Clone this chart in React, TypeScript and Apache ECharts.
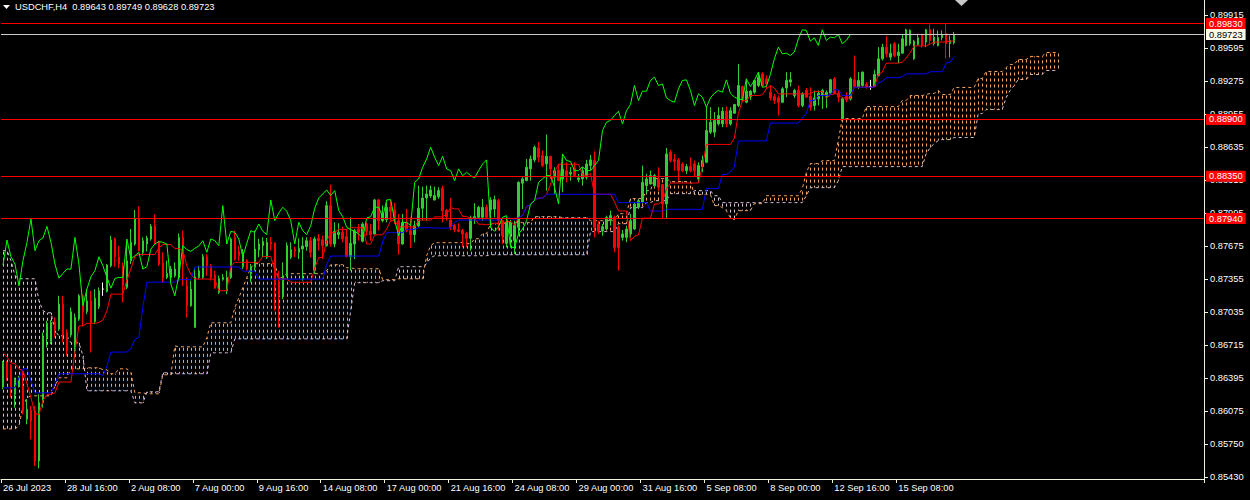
import React, { useEffect, useRef } from "react";
import * as echarts from "echarts";

const symbolName = "USDCHF,H4";

const opens = [
  0.86301,0.86544,0.86512,0.86237,0.86317,0.86317,0.85994,0.86081,0.86075,0.85590,
  0.86156,0.86787,0.86748,0.86935,0.86867,0.87110,0.86835,0.86812,0.86689,0.86964,
  0.87191,0.87039,0.87142,0.86942,0.87084,0.87256,0.87233,0.87482,0.87741,0.87569,
  0.87482,0.87272,0.87531,0.87692,0.87935,0.87611,0.87692,0.87741,0.87870,0.87709,
  0.87514,0.87369,0.87369,0.87385,0.87369,0.87757,0.87288,0.87094,0.86884,0.87369,
  0.87369,0.87569,0.87482,0.87392,0.87223,0.87349,0.87239,0.87369,0.87757,0.87621,
  0.87473,0.87531,0.87402,0.87467,0.87635,0.87677,0.87564,0.87709,0.87703,0.87321,
  0.87192,0.87379,0.87564,0.87644,0.87612,0.87644,0.87667,0.87725,0.87434,0.87748,
  0.87735,0.87677,0.88065,0.87693,0.87784,0.87806,0.87764,0.87570,0.87693,0.87839,
  0.87719,0.87887,0.87816,0.87790,0.88120,0.87919,0.87929,0.88049,0.88023,0.87919,
  0.87693,0.87903,0.87822,0.87784,0.87868,0.88039,0.88139,0.88159,0.88120,0.88152,
  0.88233,0.88017,0.87926,0.87871,0.87829,0.87822,0.87797,0.87748,0.87945,0.87952,
  0.87952,0.88049,0.88023,0.88032,0.88113,0.87919,0.87699,0.87790,0.87725,0.87855,
  0.88282,0.88307,0.88421,0.88508,0.88624,0.88550,0.88469,0.88540,0.88340,0.88411,
  0.88324,0.88404,0.88372,0.88427,0.88317,0.88324,0.88340,0.88453,0.88502,0.87887,
  0.87822,0.87838,0.87919,0.87952,0.87855,0.87757,0.87757,0.87790,0.87838,0.88049,
  0.88097,0.88259,0.88275,0.88259,0.88324,0.88269,0.88081,0.88582,0.88511,0.88508,
  0.88469,0.88404,0.88443,0.88469,0.88324,0.88443,0.88485,0.88776,0.88776,0.88857,
  0.88857,0.88980,0.88857,0.88961,0.89035,0.89219,0.89067,0.89122,0.89164,0.89229,
  0.89342,0.89294,0.89164,0.89122,0.89109,0.89067,0.89206,0.89262,0.89132,0.89181,
  0.89035,0.89181,0.89122,0.89035,0.89100,0.89132,0.89116,0.89155,0.89294,0.89155,
  0.88906,0.89122,0.89100,0.89284,0.89213,0.89229,0.89239,0.89219,0.89219,0.89326,
  0.89488,0.89601,0.89504,0.89634,0.89520,0.89543,0.89617,0.89634,0.89488,0.89627,
  0.89714,0.89650,0.89769,0.89634,0.89617,0.89692,0.89731,0.89637,0.89643,
];

const highs = [
  0.86560,0.86560,0.86528,0.86398,0.86415,0.86479,0.86188,0.86123,0.86123,0.86237,
  0.86835,0.86948,0.86955,0.86981,0.87191,0.87191,0.86867,0.87078,0.87019,0.87207,
  0.87207,0.87256,0.87239,0.87256,0.87272,0.87320,0.87498,0.87773,0.87757,0.87676,
  0.87514,0.87709,0.87838,0.88022,0.88055,0.87757,0.87773,0.87886,0.87977,0.87725,
  0.87611,0.87531,0.87482,0.87514,0.87796,0.87822,0.87369,0.87337,0.87466,0.87482,
  0.87595,0.87595,0.87498,0.87434,0.87385,0.87401,0.87434,0.87757,0.87822,0.87676,
  0.87644,0.87547,0.87499,0.87822,0.87742,0.87758,0.87751,0.87758,0.87709,0.87434,
  0.87515,0.87709,0.87709,0.87667,0.87748,0.87758,0.87758,0.87758,0.87764,0.87790,
  0.87774,0.88107,0.88269,0.87903,0.87894,0.87861,0.87839,0.87952,0.87839,0.87887,
  0.87903,0.87903,0.87887,0.88130,0.88130,0.88065,0.88097,0.88120,0.88091,0.87984,
  0.87984,0.88033,0.87952,0.87919,0.88259,0.88249,0.88259,0.88259,0.88249,0.88243,
  0.88259,0.88033,0.88139,0.87887,0.87894,0.87839,0.87813,0.87968,0.88088,0.88065,
  0.88129,0.88075,0.88146,0.88162,0.88129,0.87926,0.87952,0.87926,0.87919,0.88301,
  0.88340,0.88518,0.88550,0.88647,0.88679,0.88599,0.88754,0.88550,0.88437,0.88469,
  0.88534,0.88485,0.88437,0.88485,0.88372,0.88437,0.88508,0.88556,0.88592,0.87919,
  0.87887,0.87968,0.88016,0.87968,0.87871,0.87829,0.87871,0.87984,0.88097,0.88129,
  0.88453,0.88372,0.88404,0.88372,0.88437,0.88275,0.88624,0.88605,0.88566,0.88527,
  0.88485,0.88469,0.88534,0.88502,0.88485,0.88550,0.89026,0.89019,0.88971,0.89019,
  0.89019,0.89026,0.89019,0.89051,0.89439,0.89229,0.89294,0.89187,0.89284,0.89359,
  0.89359,0.89326,0.89229,0.89148,0.89132,0.89213,0.89359,0.89359,0.89197,0.89229,
  0.89164,0.89206,0.89213,0.89181,0.89181,0.89197,0.89181,0.89294,0.89310,0.89181,
  0.89116,0.89164,0.89310,0.89520,0.89359,0.89365,0.89262,0.89284,0.89381,0.89601,
  0.89634,0.89705,0.89634,0.89650,0.89634,0.89724,0.89779,0.89773,0.89672,0.89731,
  0.89731,0.89779,0.89821,0.89779,0.89763,0.89763,0.89828,0.89714,0.89749,
];

const lows = [
  0.86285,0.86366,0.86204,0.86107,0.86301,0.86042,0.85945,0.85800,0.85541,0.85518,
  0.86107,0.86689,0.86722,0.86787,0.86851,0.86738,0.86609,0.86787,0.86592,0.86948,
  0.86900,0.87013,0.86641,0.86916,0.87062,0.87191,0.87223,0.87466,0.87472,0.87459,
  0.87126,0.87256,0.87498,0.87676,0.87621,0.87579,0.87621,0.87725,0.87692,0.87482,
  0.87320,0.87353,0.87337,0.87369,0.87337,0.87288,0.86981,0.87084,0.86884,0.87353,
  0.87353,0.87385,0.87337,0.87256,0.87207,0.87337,0.87207,0.87353,0.87531,0.87531,
  0.87450,0.87434,0.87321,0.87434,0.87564,0.87564,0.87547,0.87628,0.87046,0.86884,
  0.87159,0.87370,0.87547,0.87564,0.87547,0.87337,0.87628,0.87564,0.87402,0.87628,
  0.87547,0.87667,0.87667,0.87661,0.87742,0.87709,0.87564,0.87434,0.87547,0.87725,
  0.87709,0.87774,0.87725,0.87784,0.87822,0.87903,0.87903,0.87919,0.87887,0.87590,
  0.87687,0.87806,0.87654,0.87709,0.87855,0.87919,0.87919,0.88139,0.88114,0.88130,
  0.87903,0.87919,0.87829,0.87806,0.87806,0.87661,0.87661,0.87628,0.87887,0.87936,
  0.87919,0.87935,0.87854,0.87952,0.87822,0.87693,0.87660,0.87677,0.87596,0.87790,
  0.88032,0.88301,0.88307,0.88485,0.88485,0.88437,0.88210,0.88324,0.88178,0.88301,
  0.88194,0.88291,0.88307,0.88340,0.88291,0.88259,0.88317,0.88404,0.87757,0.87790,
  0.87774,0.87829,0.87871,0.87612,0.87434,0.87725,0.87709,0.87757,0.87829,0.88032,
  0.88081,0.88178,0.88269,0.88243,0.88210,0.87945,0.87945,0.88485,0.88404,0.88307,
  0.88388,0.88372,0.88388,0.88340,0.88291,0.88388,0.88476,0.88760,0.88728,0.88841,
  0.88825,0.88825,0.88841,0.88954,0.89019,0.89067,0.89058,0.89090,0.89148,0.89213,
  0.89213,0.89197,0.89084,0.89051,0.88938,0.89058,0.89116,0.89219,0.89109,0.89019,
  0.89019,0.89109,0.88986,0.88986,0.89035,0.89003,0.89012,0.89148,0.89148,0.89067,
  0.88906,0.89067,0.89084,0.89213,0.89197,0.89213,0.89197,0.89187,0.89213,0.89316,
  0.89472,0.89504,0.89472,0.89504,0.89446,0.89536,0.89608,0.89617,0.89478,0.89617,
  0.89595,0.89601,0.89627,0.89617,0.89608,0.89666,0.89491,0.89501,0.89628,
];

const closes = [
  0.86534,0.86398,0.86301,0.86382,0.86398,0.86075,0.86091,0.85978,0.85590,0.86156,
  0.86793,0.86922,0.86932,0.86867,0.87110,0.86812,0.86657,0.87036,0.86981,0.87191,
  0.87039,0.87142,0.86932,0.87168,0.87239,0.87256,0.87489,0.87731,0.87569,0.87498,
  0.87288,0.87531,0.87709,0.87935,0.87628,0.87725,0.87751,0.87864,0.87709,0.87498,
  0.87362,0.87408,0.87450,0.87450,0.87757,0.87498,0.87094,0.87256,0.87375,0.87434,
  0.87569,0.87482,0.87369,0.87265,0.87359,0.87369,0.87369,0.87741,0.87547,0.87579,
  0.87612,0.87450,0.87473,0.87644,0.87693,0.87716,0.87709,0.87693,0.87305,0.87192,
  0.87386,0.87677,0.87638,0.87622,0.87651,0.87674,0.87725,0.87612,0.87742,0.87725,
  0.87677,0.88065,0.87693,0.87816,0.87806,0.87742,0.87570,0.87700,0.87822,0.87806,
  0.87887,0.87816,0.87784,0.88120,0.87919,0.87994,0.88049,0.88010,0.87919,0.87693,
  0.87903,0.87822,0.87784,0.87871,0.88039,0.88139,0.88178,0.88217,0.88162,0.88211,
  0.88017,0.87958,0.87855,0.87832,0.87816,0.87790,0.87748,0.87945,0.87958,0.88049,
  0.88049,0.87952,0.88120,0.88123,0.87919,0.87774,0.87903,0.87903,0.87871,0.88291,
  0.88324,0.88437,0.88518,0.88631,0.88534,0.88453,0.88544,0.88421,0.88404,0.88307,
  0.88421,0.88356,0.88388,0.88356,0.88333,0.88404,0.88469,0.88508,0.87855,0.87816,
  0.87861,0.87952,0.87968,0.87660,0.87660,0.87790,0.87838,0.87919,0.88081,0.88113,
  0.88291,0.88324,0.88356,0.88356,0.88243,0.88081,0.88566,0.88502,0.88492,0.88404,
  0.88404,0.88443,0.88404,0.88404,0.88453,0.88502,0.88793,0.88874,0.88890,0.88938,
  0.88980,0.88857,0.88986,0.89045,0.89229,0.89084,0.89174,0.89174,0.89278,0.89310,
  0.89229,0.89245,0.89109,0.89084,0.89067,0.89197,0.89278,0.89284,0.89181,0.89035,
  0.89148,0.89116,0.89019,0.89109,0.89155,0.89181,0.89164,0.89284,0.89155,0.89116,
  0.89100,0.89090,0.89294,0.89219,0.89278,0.89359,0.89213,0.89219,0.89336,0.89488,
  0.89601,0.89536,0.89543,0.89520,0.89553,0.89682,0.89769,0.89763,0.89659,0.89692,
  0.89617,0.89769,0.89666,0.89698,0.89692,0.89724,0.89634,0.89666,0.89723,
];

// Tenkan-sen / Kijun-sen values on the first bars (their windows reach before the visible data)
const tenkanEarly = [0.86638,0.86600,0.86541,0.86531,0.86483,0.86464,0.86337,0.86202];
const kijunEarly = [
  0.86299,0.86299,0.86299,0.86299,0.86396,0.86483,0.86483,0.86367,0.86250,0.86250,
  0.86250,0.86250,0.86250,0.86337,0.86435,0.86435,0.86435,0.86435,0.86435,0.86435,
  0.86435,0.86435,0.86435,0.86435,0.86435,
];

// Senkou Span A / B as drawn (already shifted 26 bars forward)
const spanA = [
  0.85901,0.85901,0.85901,0.85901,0.85930,0.86124,0.86202,0.86221,0.86221,0.86221,
  0.86221,0.86221,0.86221,0.86318,0.86396,0.86396,0.86396,0.86483,0.86483,0.86483,
  0.86483,0.86493,0.86493,0.86493,0.86493,0.86474,0.86474,0.86435,0.86435,0.86483,
  0.86483,0.86483,0.86445,0.86250,0.86250,0.86250,0.86241,0.86241,0.86241,0.86241,
  0.86425,0.86425,0.86425,0.86706,0.86696,0.86696,0.86696,0.86696,0.86696,0.86696,
  0.86696,0.86784,0.86929,0.86929,0.86929,0.86929,0.86929,0.86929,0.87075,0.87172,
  0.87269,0.87366,0.87463,0.87502,0.87502,0.87502,0.87502,0.87502,0.87502,0.87366,
  0.87366,0.87405,0.87405,0.87405,0.87405,0.87405,0.87405,0.87405,0.87405,0.87405,
  0.87405,0.87434,0.87492,0.87492,0.87492,0.87492,0.87463,0.87463,0.87453,0.87453,
  0.87453,0.87453,0.87453,0.87453,0.87453,0.87347,0.87347,0.87347,0.87347,0.87356,
  0.87356,0.87356,0.87356,0.87356,0.87356,0.87356,0.87579,0.87677,0.87706,0.87706,
  0.87706,0.87706,0.87706,0.87706,0.87706,0.87706,0.87696,0.87696,0.87744,0.87744,
  0.87793,0.87793,0.87890,0.87890,0.87890,0.87890,0.87900,0.87900,0.87900,0.87900,
  0.87900,0.87900,0.87900,0.87958,0.87958,0.87958,0.87958,0.87958,0.87958,0.87958,
  0.87948,0.87948,0.87948,0.87948,0.87948,0.87948,0.87948,0.87919,0.87919,0.87919,
  0.87919,0.87919,0.87919,0.87919,0.87987,0.87987,0.87987,0.88133,0.88133,0.88133,
  0.88133,0.88210,0.88210,0.88327,0.88327,0.88327,0.88327,0.88298,0.88298,0.88298,
  0.88298,0.88298,0.88298,0.88172,0.88172,0.88172,0.88172,0.88172,0.88065,0.88065,
  0.88045,0.88016,0.87948,0.87929,0.88016,0.88016,0.88016,0.88016,0.88084,0.88084,
  0.88084,0.88161,0.88161,0.88161,0.88161,0.88161,0.88161,0.88161,0.88161,0.88161,
  0.88230,0.88385,0.88472,0.88472,0.88472,0.88501,0.88501,0.88501,0.88501,0.88696,
  0.88909,0.88909,0.88909,0.88909,0.88909,0.88909,0.89025,0.89025,0.89025,0.89025,
  0.89025,0.89025,0.89025,0.89025,0.89025,0.89084,0.89084,0.89132,0.89132,0.89132,
  0.89132,0.89142,0.89152,0.89152,0.89181,0.89142,0.89142,0.89142,0.89210,0.89210,
  0.89210,0.89210,0.89210,0.89210,0.89297,0.89297,0.89365,0.89365,0.89365,0.89365,
  0.89365,0.89404,0.89433,0.89433,0.89481,0.89481,0.89481,0.89511,0.89511,0.89511,
  0.89511,0.89549,0.89549,0.89549,0.89549,
];

const spanB = [
  0.87628,0.87628,0.87531,0.87385,0.87356,0.87356,0.87356,0.87356,0.87356,0.87142,
  0.87046,0.87026,0.87026,0.86852,0.86803,0.86803,0.86803,0.86735,0.86735,0.86735,
  0.86609,0.86270,0.86270,0.86270,0.86270,0.86270,0.86270,0.86270,0.86270,0.86270,
  0.86270,0.86270,0.86270,0.86153,0.86153,0.86153,0.86260,0.86260,0.86260,0.86260,
  0.86445,0.86445,0.86445,0.86435,0.86435,0.86435,0.86435,0.86435,0.86435,0.86435,
  0.86435,0.86435,0.86638,0.86638,0.86638,0.86638,0.86638,0.86638,0.86774,0.86774,
  0.86774,0.86774,0.86774,0.86774,0.86774,0.86774,0.86774,0.86774,0.86774,0.86774,
  0.86774,0.86774,0.86774,0.86774,0.86774,0.86774,0.86774,0.86774,0.86774,0.86774,
  0.86774,0.86774,0.86774,0.86774,0.86774,0.86774,0.86774,0.87046,0.87318,0.87318,
  0.87318,0.87318,0.87318,0.87318,0.87318,0.87337,0.87337,0.87337,0.87337,0.87473,
  0.87473,0.87473,0.87473,0.87473,0.87473,0.87473,0.87502,0.87560,0.87579,0.87579,
  0.87579,0.87579,0.87579,0.87579,0.87579,0.87579,0.87579,0.87579,0.87579,0.87579,
  0.87579,0.87579,0.87589,0.87589,0.87589,0.87589,0.87589,0.87589,0.87589,0.87589,
  0.87589,0.87589,0.87589,0.87589,0.87589,0.87589,0.87589,0.87589,0.87589,0.87589,
  0.87589,0.87589,0.87589,0.87589,0.87589,0.87589,0.87589,0.87813,0.87813,0.87813,
  0.87813,0.87813,0.87813,0.87813,0.87890,0.87890,0.87890,0.88045,0.88045,0.88045,
  0.88045,0.88094,0.88094,0.88113,0.88113,0.88113,0.88113,0.88181,0.88181,0.88181,
  0.88181,0.88181,0.88181,0.88210,0.88210,0.88210,0.88210,0.88210,0.88161,0.88161,
  0.88094,0.88094,0.88094,0.88094,0.88094,0.88094,0.88094,0.88094,0.88094,0.88094,
  0.88094,0.88094,0.88094,0.88094,0.88094,0.88094,0.88094,0.88094,0.88094,0.88094,
  0.88094,0.88161,0.88239,0.88239,0.88239,0.88239,0.88239,0.88239,0.88239,0.88307,
  0.88443,0.88443,0.88443,0.88443,0.88443,0.88443,0.88443,0.88443,0.88443,0.88443,
  0.88443,0.88443,0.88443,0.88443,0.88443,0.88443,0.88443,0.88443,0.88443,0.88443,
  0.88443,0.88569,0.88628,0.88666,0.88696,0.88705,0.88705,0.88705,0.88725,0.88725,
  0.88725,0.88725,0.88725,0.88725,0.88957,0.88957,0.88996,0.88996,0.88996,0.88996,
  0.88996,0.89113,0.89181,0.89229,0.89287,0.89287,0.89287,0.89336,0.89336,0.89336,
  0.89336,0.89375,0.89375,0.89375,0.89375,
];

const priceTicks = [
  0.89915, 0.89595, 0.89275, 0.88955, 0.88635, 0.88315, 0.87995, 0.87675,
  0.87355, 0.87035, 0.86715, 0.86395, 0.86075, 0.8575, 0.8543,
];

const timeLabels = [
  "26 Jul 2023", "28 Jul 16:00", "2 Aug 08:00", "7 Aug 00:00", "9 Aug 16:00",
  "14 Aug 08:00", "17 Aug 00:00", "21 Aug 16:00", "24 Aug 08:00", "29 Aug 00:00",
  "31 Aug 16:00", "5 Sep 08:00", "8 Sep 00:00", "12 Sep 16:00", "15 Sep 08:00",
];

const redLevels = [0.8983, 0.889, 0.8835, 0.8794];

const TOTAL_SLOTS = 301;
const SHIFT = 26;
const LABEL_STEP = 16;
const Y_MIN = 0.85415;
const Y_MAX = 0.90058;
const FONT = "'Liberation Sans', Arial, sans-serif";
const FS = 9.3;
const AXIS_COLOR = "#f2f2dc";

function midRange(i: number, n: number) {
  let hi = -Infinity;
  let lo = Infinity;
  for (let j = Math.max(0, i - n + 1); j <= i; j++) {
    if (highs[j] > hi) hi = highs[j];
    if (lows[j] < lo) lo = lows[j];
  }
  return +((hi + lo) / 2).toFixed(5);
}

function buildOption() {
  const n = closes.length;
  const last = n - 1;
  const cats = Array.from({ length: TOTAL_SLOTS }, (_, i) => String(i));
  const candleData = opens.map((o, i) => {
    const c = closes[i];
    const item: any = { value: [o, c, lows[i], highs[i]] };
    if (o === c) {
      item.itemStyle = { color: "#ffffff", color0: "#ffffff", borderColor: "#ffffff", borderColor0: "#ffffff" };
    }
    return item;
  });
  const tenkan = closes.map((_, i) => (i < tenkanEarly.length ? tenkanEarly[i] : midRange(i, 9)));
  const kijun = closes.map((_, i) => (i < kijunEarly.length ? kijunEarly[i] : midRange(i, 26)));
  const chikou = closes.slice(SHIFT);
  const cloud = spanA.map((a, i) => [i, a, spanB[i]]);
  const bid = closes[last];
  const title = `${symbolName}\u00a0\u00a0${opens[last].toFixed(5)} ${highs[last].toFixed(5)} ${lows[last].toFixed(5)} ${closes[last].toFixed(5)}`;

  const showIdx = (idx: number) => idx % LABEL_STEP === 0 && idx / LABEL_STEP < timeLabels.length;

  const levelLabel = (text: string, fg: string, bg: string) => ({
    show: true,
    position: "end",
    distance: 2,
    formatter: text,
    color: fg,
    backgroundColor: bg,
    padding: [1, 3, 0, 3],
    lineHeight: 10,
    fontSize: FS,
    fontFamily: FONT,
  });

  const levelLines: any[] = redLevels.map((v) => ({
    yAxis: v,
    lineStyle: { color: "#ff0000", width: 1, type: "solid", opacity: 1 },
    label: levelLabel(v.toFixed(5), "#ffffff", "#ff0000"),
  }));
  levelLines.push({
    yAxis: bid,
    lineStyle: { color: "#c8c8c8", width: 1, type: "solid", opacity: 1 },
    label: levelLabel(bid.toFixed(5), "#000000", "#fbfbe8"),
  });

  return {
    animation: false,
    backgroundColor: "#000000",
    grid: { left: 0, top: 0, right: 46, bottom: 21, containLabel: false },
    xAxis: {
      type: "category",
      data: cats,
      boundaryGap: true,
      axisLine: { show: true, lineStyle: { color: AXIS_COLOR, width: 1 } },
      axisTick: { show: true, interval: showIdx, length: 4, lineStyle: { color: AXIS_COLOR } },
      axisLabel: {
        show: true,
        interval: showIdx,
        formatter: (_v: string, idx: number) => timeLabels[idx / LABEL_STEP] ?? "",
        color: "#ffffff",
        fontSize: FS,
        fontFamily: FONT,
        align: "left",
        margin: 4,
      },
      splitLine: { show: false },
    },
    yAxis: {
      type: "value",
      position: "right",
      min: Y_MIN,
      max: Y_MAX,
      axisLine: { show: true, lineStyle: { color: AXIS_COLOR, width: 1 } },
      axisTick: { show: true, length: 4, customValues: priceTicks, lineStyle: { color: AXIS_COLOR } },
      axisLabel: {
        show: true,
        customValues: priceTicks,
        formatter: (v: number) => v.toFixed(5),
        color: "#ffffff",
        fontSize: FS,
        fontFamily: FONT,
        margin: 6,
      },
      splitLine: { show: false },
    },
    graphic: [
      { type: "polygon", shape: { points: [[3, 5], [10, 5], [6.5, 9]] }, style: { fill: "#ffffff" }, z: 100 },
      {
        type: "text",
        x: 15,
        y: 2,
        style: { text: title, fill: "#ffffff", fontSize: FS, fontFamily: FONT },
        z: 100,
      },
      { type: "polygon", shape: { points: [[955, 0], [968, 0], [961.5, 6]] }, style: { fill: "#c8c8c8" }, z: 100 },
    ],
    series: [
      {
        type: "custom",
        name: "kumo",
        data: cloud,
        encode: { x: 0, y: [1, 2] },
        z: 1,
        silent: true,
        renderItem: (_params: any, api: any) => {
          const i = api.value(0);
          const a = api.value(1);
          const b = api.value(2);
          const pa = api.coord([i, a]);
          const pb = api.coord([i, b]);
          const x = Math.round(pa[0]) + 0.5;
          const y1 = Math.min(pa[1], pb[1]);
          const y2 = Math.max(pa[1], pb[1]);
          return {
            type: "line",
            shape: { x1: x, y1, x2: x, y2 },
            style: {
              stroke: a >= b ? "#f4a460" : "#d8bfd8",
              lineWidth: 1,
              lineDash: [3, 3],
              lineDashOffset: y1 % 6,
            },
          };
        },
      },
      {
        type: "line",
        name: "Senkou Span A",
        data: spanA,
        showSymbol: false,
        z: 1,
        silent: true,
        lineStyle: { color: "#f4a460", width: 1, type: [3, 3] },
      },
      {
        type: "line",
        name: "Senkou Span B",
        data: spanB,
        showSymbol: false,
        z: 1,
        silent: true,
        lineStyle: { color: "#d8bfd8", width: 1, type: [3, 3] },
      },
      {
        type: "candlestick",
        name: symbolName,
        data: candleData,
        barWidth: 2,
        z: 2,
        silent: true,
        itemStyle: {
          color: "#32cd32",
          color0: "#ff0000",
          borderColor: "#32cd32",
          borderColor0: "#ff0000",
          borderWidth: 1,
        },
      },
      {
        type: "line",
        name: "Tenkan-sen",
        data: tenkan,
        showSymbol: false,
        z: 3,
        silent: true,
        lineStyle: { color: "#ff0000", width: 1 },
      },
      {
        type: "line",
        name: "Kijun-sen",
        data: kijun,
        showSymbol: false,
        z: 3,
        silent: true,
        lineStyle: { color: "#0000ff", width: 1 },
      },
      {
        type: "line",
        name: "Chikou Span",
        data: chikou,
        showSymbol: false,
        z: 3,
        silent: true,
        lineStyle: { color: "#00ff00", width: 1 },
        markLine: {
          symbol: ["none", "none"],
          silent: true,
          animation: false,
          precision: 5,
          z: 10,
          data: levelLines,
        },
      },
    ],
  };
}

export default function App() {
  const ref = useRef<HTMLDivElement>(null);
  useEffect(() => {
    document.body.style.margin = "0";
    document.body.style.background = "#000000";
    const chart = echarts.init(ref.current!, null, { renderer: "svg" });
    chart.setOption(buildOption() as any);
    return () => chart.dispose();
  }, []);
  return <div ref={ref} style={{ width: 1250, height: 500 }} />;
}
